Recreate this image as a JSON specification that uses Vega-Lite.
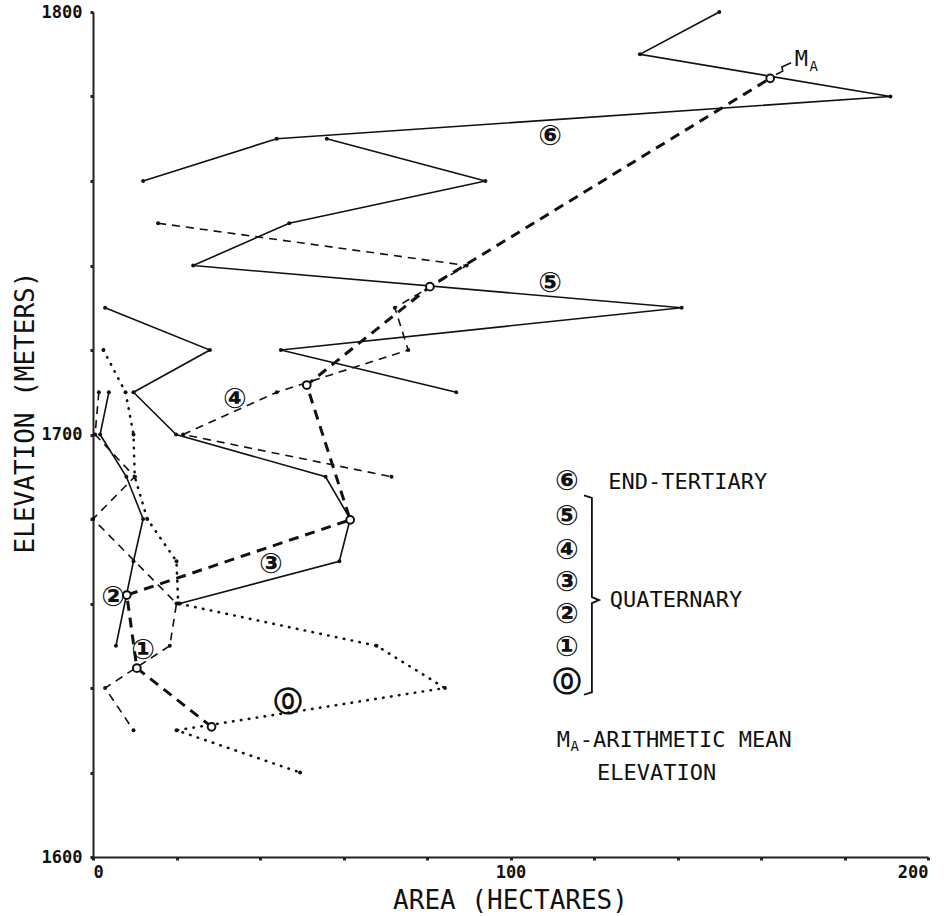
{
  "$schema": "https://vega.github.io/schema/vega-lite/v6.json",
  "width": 835,
  "height": 845,
  "autosize": {"type": "none"},
  "padding": {"left": 93, "top": 12, "right": 20, "bottom": 59},
  "background": "white",
  "config": {
    "view": {"stroke": null},
    "font": "DejaVu Sans Mono",
    "axis": {
      "grid": false,
      "domainColor": "#222",
      "domainWidth": 2,
      "tickColor": "#222",
      "tickSize": 3,
      "tickWidth": 3,
      "labelFont": "DejaVu Sans Mono",
      "labelFontSize": 17,
      "labelFontWeight": "bold",
      "labelColor": "#111",
      "titleFont": "DejaVu Sans Mono",
      "titleFontSize": 26,
      "titleFontWeight": "normal",
      "titleColor": "#111"
    }
  },
  "datasets": {
    "series": [
      {"s": "6", "ord": 1, "area": 150, "elev": 1800},
      {"s": "6", "ord": 2, "area": 131, "elev": 1790},
      {"s": "6", "ord": 3, "area": 191, "elev": 1780},
      {"s": "6", "ord": 4, "area": 44, "elev": 1770},
      {"s": "6", "ord": 5, "area": 12, "elev": 1760},
      {"s": "5", "ord": 1, "area": 56, "elev": 1770},
      {"s": "5", "ord": 2, "area": 94, "elev": 1760},
      {"s": "5", "ord": 3, "area": 47, "elev": 1750},
      {"s": "5", "ord": 4, "area": 24, "elev": 1740},
      {"s": "5", "ord": 5, "area": 141, "elev": 1730},
      {"s": "5", "ord": 6, "area": 45, "elev": 1720},
      {"s": "5", "ord": 7, "area": 87, "elev": 1710},
      {"s": "4", "ord": 1, "area": 15.6, "elev": 1750},
      {"s": "4", "ord": 2, "area": 89.5, "elev": 1740},
      {"s": "4", "ord": 3, "area": 72.3, "elev": 1730},
      {"s": "4", "ord": 4, "area": 75.5, "elev": 1720},
      {"s": "4", "ord": 5, "area": 44, "elev": 1710},
      {"s": "4", "ord": 6, "area": 21.6, "elev": 1700},
      {"s": "4", "ord": 7, "area": 71.5, "elev": 1690},
      {"s": "3", "ord": 1, "area": 2.9, "elev": 1730},
      {"s": "3", "ord": 2, "area": 28, "elev": 1720},
      {"s": "3", "ord": 3, "area": 9.7, "elev": 1710},
      {"s": "3", "ord": 4, "area": 19.9, "elev": 1700},
      {"s": "3", "ord": 5, "area": 55.7, "elev": 1690},
      {"s": "3", "ord": 6, "area": 61.6, "elev": 1680},
      {"s": "3", "ord": 7, "area": 59, "elev": 1670},
      {"s": "3", "ord": 8, "area": 20.8, "elev": 1660},
      {"s": "2", "ord": 1, "area": 3.8, "elev": 1710},
      {"s": "2", "ord": 2, "area": 1.7, "elev": 1700},
      {"s": "2", "ord": 3, "area": 8, "elev": 1690},
      {"s": "2", "ord": 4, "area": 12, "elev": 1680},
      {"s": "2", "ord": 5, "area": 9.7, "elev": 1670},
      {"s": "2", "ord": 6, "area": 5.5, "elev": 1650},
      {"s": "1", "ord": 1, "area": 1.4, "elev": 1710},
      {"s": "1", "ord": 2, "area": 0.5, "elev": 1700},
      {"s": "1", "ord": 3, "area": 10, "elev": 1690},
      {"s": "1", "ord": 4, "area": 0, "elev": 1680},
      {"s": "1", "ord": 5, "area": 20, "elev": 1660},
      {"s": "1", "ord": 6, "area": 18.4, "elev": 1650},
      {"s": "1", "ord": 7, "area": 2.9, "elev": 1640},
      {"s": "1", "ord": 8, "area": 9.7, "elev": 1630},
      {"s": "0", "ord": 1, "area": 2.5, "elev": 1720},
      {"s": "0", "ord": 2, "area": 7.8, "elev": 1710},
      {"s": "0", "ord": 3, "area": 9.7, "elev": 1700},
      {"s": "0", "ord": 4, "area": 10, "elev": 1690},
      {"s": "0", "ord": 5, "area": 13, "elev": 1680},
      {"s": "0", "ord": 6, "area": 20, "elev": 1670},
      {"s": "0", "ord": 7, "area": 20.4, "elev": 1660},
      {"s": "0", "ord": 8, "area": 67.9, "elev": 1650},
      {"s": "0", "ord": 9, "area": 84.3, "elev": 1640},
      {"s": "0", "ord": 10, "area": 20, "elev": 1630},
      {"s": "0", "ord": 11, "area": 49.6, "elev": 1620}
    ],
    "mean": [
      {"s": "0", "ord": 1, "area": 28.4, "elev": 1630.8},
      {"s": "1", "ord": 2, "area": 10.5, "elev": 1644.7},
      {"s": "2", "ord": 3, "area": 8.1, "elev": 1662},
      {"s": "3", "ord": 4, "area": 61.6, "elev": 1679.8},
      {"s": "4", "ord": 5, "area": 51.2, "elev": 1711.7},
      {"s": "5", "ord": 6, "area": 80.7, "elev": 1735},
      {"s": "6", "ord": 7, "area": 162.2, "elev": 1784.3}
    ],
    "connector": [
      {"ord": 1, "area": 163.6, "elev": 1785.2},
      {"ord": 2, "area": 165.2, "elev": 1786.0},
      {"ord": 3, "area": 165.0, "elev": 1787.0},
      {"ord": 4, "area": 167.2, "elev": 1788.0}
    ],
    "bracket": [
      {"ord": 1, "area": 117.6, "elev": 1685.6},
      {"ord": 2, "area": 119.5, "elev": 1685.0},
      {"ord": 3, "area": 119.5, "elev": 1661.5},
      {"ord": 4, "area": 121.2, "elev": 1660.8},
      {"ord": 5, "area": 119.5, "elev": 1660.1},
      {"ord": 6, "area": 119.5, "elev": 1639.0},
      {"ord": 7, "area": 117.6, "elev": 1638.4}
    ],
    "circled": [
      {"t": "⑥", "area": 109.5, "elev": 1770.4},
      {"t": "⑤", "area": 109.5, "elev": 1735.6},
      {"t": "④", "area": 34, "elev": 1708.2},
      {"t": "③", "area": 42.6, "elev": 1669.1},
      {"t": "②", "area": 4.8, "elev": 1661.3},
      {"t": "①", "area": 12, "elev": 1648.8},
      {"t": "⓪", "area": 46.7, "elev": 1636.4},
      {"t": "⑥", "area": 113.5, "elev": 1688.8},
      {"t": "⑤", "area": 113.5, "elev": 1680.5},
      {"t": "④", "area": 113.5, "elev": 1672.4},
      {"t": "③", "area": 113.5, "elev": 1664.9},
      {"t": "②", "area": 113.5, "elev": 1657.3},
      {"t": "①", "area": 113.5, "elev": 1649.5},
      {"t": "⓪", "area": 113.5, "elev": 1641.2}
    ],
    "notes": [
      {"t": "END-TERTIARY", "area": 123.4, "elev": 1688.8},
      {"t": "QUATERNARY", "area": 123.8, "elev": 1660.8},
      {"t": "M", "area": 111.1, "elev": 1627.7},
      {"t": "-ARITHMETIC MEAN", "area": 116.6, "elev": 1627.7},
      {"t": "ELEVATION", "area": 120.7, "elev": 1619.9},
      {"t": "M", "area": 168.1, "elev": 1788.9}
    ],
    "subs": [
      {"t": "A", "area": 114.4, "elev": 1626.0},
      {"t": "A", "area": 171.6, "elev": 1786.9}
    ]
  },
  "encoding": {
    "x": {
      "field": "area",
      "type": "quantitative",
      "scale": {"domain": [0, 200], "nice": false, "zero": false},
      "axis": {
        "title": "AREA (HECTARES)",
        "values": [0, 20, 40, 60, 80, 100, 120, 140, 160, 180, 200],
        "format": "d",
        "labelExpr": "datum.value % 100 === 0 ? datum.label : ''",
        "labelPadding": 4,
        "titleX": 417,
        "titleY": 43,
        "titleBaseline": "middle",
        "titleAlign": "center"
      }
    },
    "y": {
      "field": "elev",
      "type": "quantitative",
      "scale": {"domain": [1600, 1800], "nice": false, "zero": false},
      "axis": {
        "title": "ELEVATION (METERS)",
        "values": [1600, 1620, 1640, 1660, 1680, 1700, 1720, 1740, 1760, 1780, 1800],
        "format": "d",
        "labelExpr": "datum.value % 100 === 0 ? datum.label : ''",
        "labelPadding": 8,
        "titleX": -68,
        "titleY": 400,
        "titleAngle": 270,
        "titleAlign": "center",
        "titleBaseline": "middle"
      }
    }
  },
  "layer": [
    {
      "data": {"name": "series"},
      "transform": [{"filter": {"field": "s", "oneOf": ["2", "3", "5", "6"]}}],
      "mark": {"type": "line", "color": "#111", "strokeWidth": 1.6},
      "encoding": {"detail": {"field": "s"}, "order": {"field": "ord", "type": "quantitative"}}
    },
    {
      "data": {"name": "series"},
      "transform": [{"filter": {"field": "s", "oneOf": ["1", "4"]}}],
      "mark": {"type": "line", "color": "#111", "strokeWidth": 1.6, "strokeDash": [8, 6]},
      "encoding": {"detail": {"field": "s"}, "order": {"field": "ord", "type": "quantitative"}}
    },
    {
      "data": {"name": "series"},
      "transform": [{"filter": {"field": "s", "oneOf": ["0"]}}],
      "mark": {"type": "line", "color": "#111", "strokeWidth": 2.6, "strokeDash": [0.5, 7.5], "strokeCap": "round"},
      "encoding": {"detail": {"field": "s"}, "order": {"field": "ord", "type": "quantitative"}}
    },
    {
      "data": {"name": "mean"},
      "mark": {"type": "line", "color": "#111", "strokeWidth": 3, "strokeDash": [10, 7]},
      "encoding": {"order": {"field": "ord", "type": "quantitative"}}
    },
    {
      "data": {"name": "connector"},
      "mark": {"type": "line", "color": "#111", "strokeWidth": 1.6},
      "encoding": {"order": {"field": "ord", "type": "quantitative"}}
    },
    {
      "data": {"name": "bracket"},
      "mark": {"type": "line", "color": "#111", "strokeWidth": 1.8},
      "encoding": {"order": {"field": "ord", "type": "quantitative"}}
    },
    {
      "data": {"name": "series"},
      "mark": {"type": "point", "filled": true, "color": "#111", "size": 16, "opacity": 1},
      "encoding": {}
    },
    {
      "data": {"name": "mean"},
      "mark": {"type": "point", "filled": true, "fill": "white", "stroke": "#111", "strokeWidth": 2, "size": 60, "opacity": 1},
      "encoding": {}
    },
    {
      "data": {"name": "circled"},
      "mark": {"type": "text", "font": "DejaVu Sans", "fontWeight": "bold", "fontSize": 28, "align": "center", "baseline": "middle", "color": "#111"},
      "encoding": {"text": {"field": "t"}}
    },
    {
      "data": {"name": "notes"},
      "mark": {"type": "text", "font": "DejaVu Sans Mono", "fontSize": 22, "align": "left", "baseline": "middle", "color": "#111"},
      "encoding": {"text": {"field": "t"}}
    },
    {
      "data": {"name": "subs"},
      "mark": {"type": "text", "font": "DejaVu Sans Mono", "fontSize": 14, "align": "left", "baseline": "middle", "color": "#111"},
      "encoding": {"text": {"field": "t"}}
    }
  ]
}
